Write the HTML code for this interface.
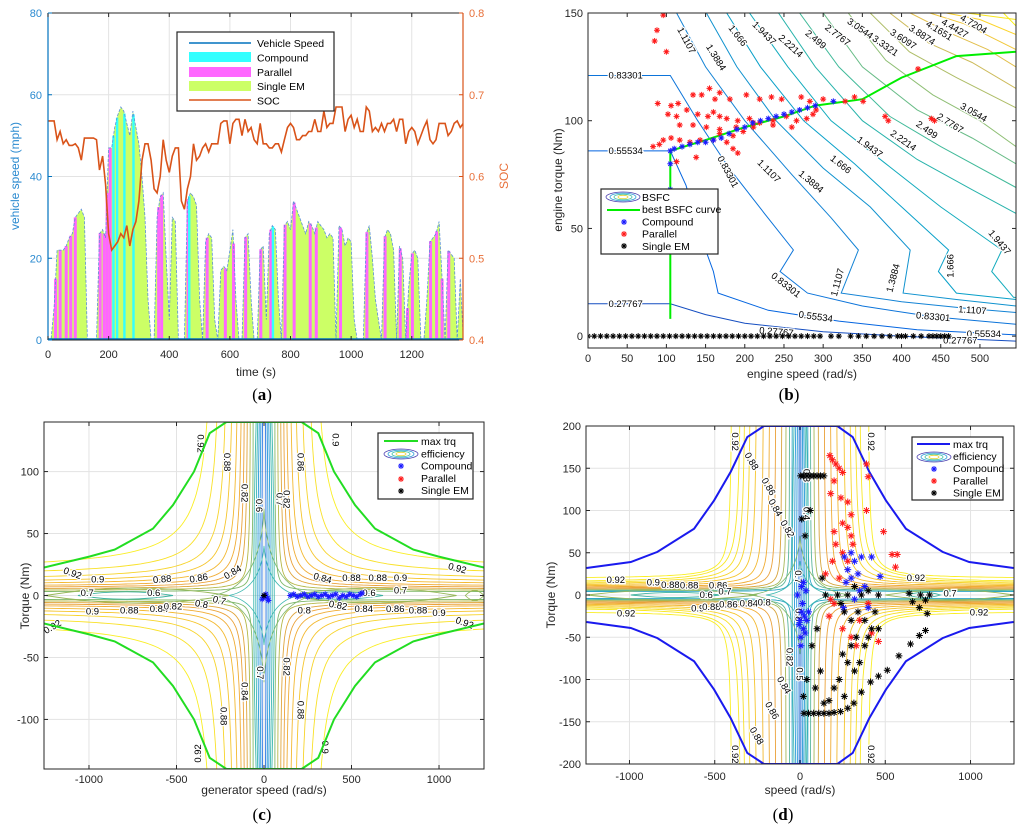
<!DOCTYPE html>
<html><head><meta charset="utf-8">
<style>
html,body{margin:0;padding:0;background:#fff;}
svg{display:block;font-family:"Liberation Sans",Arial,sans-serif;}
.tk{font-size:11px;fill:#262626;}
.ttl{font-size:12px;fill:#262626;}
.lg{font-size:10.5px;fill:#000;}
.cl{font-size:9.5px;fill:#000;stroke:#fff;stroke-width:2.5px;paint-order:stroke;}
.pl{font-family:"Liberation Serif",serif;font-size:17px;fill:#000;}
</style></head>
<body>
<svg id="fig" width="1024" height="834" viewBox="0 0 1024 834" xmlns="http://www.w3.org/2000/svg">
<rect width="1024" height="834" fill="#fff"/>
<defs>
<clipPath id="clipA"><rect x="48" y="13" width="415" height="327"/></clipPath>
<clipPath id="clipB"><rect x="588" y="13" width="428" height="335"/></clipPath>
<clipPath id="clipC"><rect x="44" y="422" width="440" height="347"/></clipPath>
<clipPath id="clipD"><rect x="586" y="426" width="428" height="338"/></clipPath>
</defs>
<text class="pl" x="262" y="400" text-anchor="middle">(<tspan font-weight="bold">a</tspan>)</text>
<text class="pl" x="789" y="400" text-anchor="middle">(<tspan font-weight="bold">b</tspan>)</text>
<text class="pl" x="262" y="820" text-anchor="middle">(<tspan font-weight="bold">c</tspan>)</text>
<text class="pl" x="783" y="820" text-anchor="middle">(<tspan font-weight="bold">d</tspan>)</text>
</svg>
<script>
// ---------- Panel (a) data ----------
const speedA = [0,0,8,22,22,22,23,25,26,30,31,32,30,0,0,0,0,26,27,25,47,47,52,55,57,56,53,50,56,52,48,40,30,10,0,0,30,35,36,20,5,30,29,0,0,0,34,36,35,33,10,0,24,26,25,5,0,17,18,17,22,27,10,0,0,25,26,10,0,0,22,23,5,26,28,27,10,0,28,29,27,34,32,30,28,26,29,28,26,29,28,27,25,26,25,0,28,27,23,25,24,5,0,0,0,26,28,20,10,5,0,25,27,26,22,0,23,20,0,13,21,22,20,0,0,10,24,25,26,29,15,0,22,21,20,0,15,0];
const socA = [0.668,0.668,0.668,0.645,0.655,0.64,0.645,0.638,0.638,0.64,0.635,0.62,0.647,0.647,0.647,0.647,0.645,0.608,0.625,0.59,0.53,0.51,0.515,0.52,0.53,0.525,0.54,0.515,0.535,0.545,0.57,0.62,0.64,0.64,0.62,0.585,0.58,0.6,0.645,0.62,0.605,0.625,0.635,0.635,0.57,0.56,0.585,0.6,0.64,0.62,0.625,0.635,0.64,0.63,0.64,0.64,0.64,0.665,0.668,0.668,0.64,0.665,0.67,0.67,0.65,0.67,0.655,0.66,0.645,0.64,0.665,0.64,0.64,0.635,0.635,0.64,0.64,0.63,0.645,0.66,0.665,0.66,0.645,0.645,0.65,0.65,0.655,0.655,0.67,0.655,0.655,0.68,0.66,0.665,0.665,0.685,0.685,0.685,0.655,0.67,0.675,0.66,0.67,0.655,0.655,0.685,0.68,0.655,0.66,0.655,0.665,0.655,0.665,0.665,0.67,0.655,0.67,0.67,0.64,0.655,0.66,0.655,0.64,0.65,0.66,0.668,0.645,0.64,0.645,0.665,0.665,0.665,0.65,0.655,0.665,0.668,0.66,0.665];
const timeStepA = 10;
const parallelTimesA = [25,40,60,75,90,172,185,195,205,365,375,462,525,585,612,652,702,735,782,812,865,885,965,1052,1112,1162,1186,1202,1262,1282,1300,1322];
const compoundTimesA = [216,228,252,282,466,742];
const xTicksA = [0,200,400,600,800,1000,1200];
const yTicksA = [0,20,40,60,80];
const y2TicksA = [0.4,0.5,0.6,0.7,0.8];

// ---------- Panel (b) data ----------
const bsfcLevels = ['0.27767','0.55534','0.83301','1.1107','1.3884','1.666','1.9437','2.2214','2.499','2.7767','3.0544','3.3321','3.6097','3.8874','4.1651','4.4427','4.7204'];
const bsfcContours = [
 [[0,15],[105,15],[150,10],[200,6],[300,2],[400,0],[546,-2.3]],
 [[0,86],[105,86],[125,70],[145,45],[160,30],[166,20],[230,12],[320,7],[420,3],[546,0.6]],
 [[0,121],[105,121],[140,100],[180,78],[225,57],[262,40],[245,30],[280,20],[350,14],[440,9],[546,5.5]],
 [[113,150],[150,125],[200,100],[260,75],[310,55],[345,40],[323,20],[400,16],[480,13],[546,11]],
 [[151,150],[190,125],[240,100],[300,78],[360,60],[411,40],[402,20],[470,17],[546,14]],
 [[177,150],[220,125],[275,100],[340,80],[400,60],[460,40],[447,30],[470,20],[546,17]],
 [[206,150],[255,125],[310,100],[380,80],[450,60],[528,40],[515,30],[543,18],[546,18]],
 [[243,150],[290,125],[350,100],[420,82],[490,68],[546,57]],
 [[270,150],[320,125],[385,102],[450,88],[546,69]],
 [[300,150],[350,125],[420,105],[490,92],[546,80]],
 [[332,150],[380,128],[440,112],[500,100],[546,88]],
 [[360,150],[410,132],[470,120],[546,106]],
 [[385,150],[435,136],[490,127],[546,115]],
 [[411,150],[460,141],[510,133],[546,125]],
 [[436,150],[480,145],[546,133]],
 [[457,150],[500,147],[546,140]],
 [[483,150],[546,147]]
];
const bsfcLabels = [
 [48,121,'0.83301',0],[48,86,'0.55534',0],[48,15,'0.27767',0],
 [122,138,'1.1107',62],[160,130,'1.3884',58],[188,140,'1.666',52],[222,141,'1.9437',45],[256,135,'2.2214',42],[288,138,'2.499',40],[316,140,'2.7767',38],[345,143,'3.0544',35],[377,135,'3.3321',35],[400,138,'3.6097',33],[424,140,'3.8874',33],[446,142,'4.1651',32],[466,143,'4.4427',30],[490,145,'4.7204',30],
 [175,77,'0.83301',62],[228,77,'1.1107',45],[282,72,'1.3884',40],[320,80,'1.666',38],[357,88,'1.9437',36],[400,91,'2.2214',35],[430,96,'2.499',35],[460,99,'2.7767',32],[490,104,'3.0544',30],
 [250,24,'0.83301',38],[322,26,'1.1107',-75],[393,28,'1.3884',-75],[466,34,'1.666',-90],[522,44,'1.9437',50],
 [290,9,'0.55534',8],[440,9,'0.83301',5],[490,12,'1.1107',4],[240,2,'0.27767',5],[505,1,'0.55534',0],[475,-2,'0.27767',0]
];
const bestBsfcX = [105,105,150,200,250,290,350,400,470,546];
const bestBsfcY = [8,86,91,97,102,107,110,120,130,132];
const compoundB = [[105,86],[105,80],[105,68],[110,87],[120,88],[130,89],[140,90],[150,90],[160,91],[170,92],[180,94],[190,96],[200,97],[210,99],[220,100],[230,101],[240,102],[250,103],[260,104],[270,105],[280,106],[290,107],[313,109]];
const parallelB = [[96,149],[88,142],[85,137],[100,132],[155,115],[168,113],[89,108],[106,107],[115,108],[134,112],[145,112],[162,110],[181,110],[202,112],[219,110],[234,111],[247,110],[272,111],[283,109],[300,110],[328,109],[340,111],[351,109],[379,102],[383,100],[438,101],[442,100],[421,124],[102,103],[113,102],[126,105],[140,103],[153,102],[160,104],[168,102],[177,101],[191,100],[206,101],[219,99],[236,100],[253,102],[266,100],[279,101],[287,103],[291,105],[260,97],[236,98],[211,99],[189,97],[168,96],[151,97],[134,98],[117,98],[96,91],[106,92],[117,91],[130,90],[143,91],[160,91],[177,90],[185,87],[191,85],[83,88],[91,89],[113,81],[138,83],[168,94],[185,93],[198,95],[211,97]];
const singleB = [0,8,16,24,32,40,48,56,64,72,80,88,96,104,112,120,128,136,144,152,160,168,176,184,192,200,208,216,224,232,240,248,256,264,272,280,288,296,310,320,335,345,355,365,375,385,395,400,405,415,425,435,440,445,450,455,460];
const xTicksB = [0,50,100,150,200,250,300,350,400,450,500];
const yTicksB = [0,50,100,150];

// ---------- Panel (c) data ----------
const maxTrqCX = [-1257,-996,-853,-634,-520,-400,-310,-215,215,310,400,520,634,853,996,1257];
const maxTrqCY = [22.6,31.5,37,54,73,100,131,140,140,131,100,73,54,37,31.5,22.6];
const effA_C = [60,75,90,105,120,140,165,195,230,260];
const effB_C = [3,4,5,6,7,8.5,10,12,15,19];
const effK_C = [300,500,800,1100,1500,2000,2700,3600,5000,8000];
const effCol_C = ['#7fb86a','#b5b848','#e0a53c','#eba23a','#f0ac35','#f3b830','#f5c52c','#f7d42a','#f9e128','#faee24'];
const centerX_C = [-45,-36,-27,-18,-9,9,18,27,36,45];
const loopsC = [[-1063,-520,3,'#3fb3a0'],[-1250,-200,6,'#98b85a'],[166,680,3,'#3fb3a0'],[140,1100,6,'#98b85a'],[1150,1257,4,'#98b85a']];
const compoundC = [[0,-1],[10,1],[20,-2],[25,-4],[-10,-3],[150,0],[170,1],[190,-1],[210,0],[230,1],[250,-1],[270,0],[290,1],[310,-1],[330,0],[350,1],[370,-1],[390,0],[410,1],[430,-2],[450,0],[470,-1],[490,1],[510,0],[530,-1],[550,1],[560,2]];
const singleC = [[0,0]];
const labelsC = [[-1100,18,'0.92',20],[-950,13,'0.9',0],[-580,13,'0.88',-5],[-370,14,'0.86',-10],[-170,19,'0.84',-30],[-980,-13,'0.9',0],[-770,-12,'0.88',0],[-600,-11,'0.84',0],[-520,-9,'0.82',0],[-360,-7,'0.8',10],[-260,-4,'0.7',15],[-1010,2,'0.7',0],[-630,2,'0.6',0],[-1200,-25,'0.92',-30],[230,-12,'0.8',0],[420,-8,'0.82',10],[570,-11,'0.84',0],[750,-11,'0.86',0],[880,-12,'0.88',0],[1000,-14,'0.9',0],[1140,-22,'0.92',20],[330,14,'0.84',15],[500,14,'0.88',0],[650,14,'0.88',0],[780,14,'0.9',0],[1100,22,'0.92',15],[780,4,'0.7',0],[600,2,'0.6',0],
 [-380,125,'0.92',90],[-230,110,'0.88',90],[-130,85,'0.82',90],[-45,75,'0.6',90],[70,80,'0.7',90],[110,80,'0.82',90],[190,110,'0.86',90],[390,128,'0.9',90],[-40,-60,'0.7',90],[-130,-75,'0.84',90],[-250,-95,'0.88',90],[-360,-125,'0.92',-90],[110,-55,'0.82',90],[190,-90,'0.88',90],[330,-120,'0.9',90]];
const xTicksC = [-1000,-500,0,500,1000];
const yTicksC = [-100,-50,0,50,100];

// ---------- Panel (d) data ----------
const maxTrqDX = [-1252,-992,-836,-621,-504,-406,-309,-211,219,309,406,504,621,836,992,1252];
const maxTrqDY = [32,39,51,78.5,112,146,187,200,200,187,146,112,78.5,51,39,32];
const effA_D = [45,60,80,105,140,175,210,250,285,315,340,395];
const effB_D = [4,5,6,7,8,9,10,11,12,13,14,19];
const effK_D = [200,300,400,500,700,900,1200,1500,1800,2100,2500,1500];
const effCol_D = ['#2fa6c6','#5bb69c','#a8b85a','#d8a43c','#eba23a','#f0ac35','#f3b830','#f5c52c','#f7d42a','#f8e028','#f9e826','#faee24'];
const centerX_D = [-35,-25,-15,-5,5,14,22,30,38];
const loopsD = [[-992,-465,3,'#3fb3a0'],[-1250,-250,6,'#98b85a'],[629,824,3,'#3fb3a0'],[500,1254,6,'#98b85a']];
const compoundD = [[0,-30],[10,-20],[20,-40],[5,-50],[15,-10],[25,-25],[-5,-35],[30,-45],[40,-30],[10,10],[20,15],[-15,0],[5,-60],[50,-20],[35,5],[260,45],[280,30],[300,50],[320,40],[340,25],[360,45],[380,10],[300,20],[270,15],[420,45],[470,22],[350,5],[320,-5],[400,-15],[255,-15]];
const parallelD = [[175,165],[190,160],[210,155],[230,150],[250,145],[200,135],[390,155],[400,140],[180,120],[240,115],[280,110],[300,95],[390,100],[250,85],[280,80],[300,70],[200,75],[310,60],[210,60],[250,50],[190,40],[280,40],[230,20],[200,-10],[170,-25],[250,-40],[300,-50],[350,-30],[420,-45],[460,-55],[570,48],[560,33],[540,48],[490,75],[180,-5],[150,25],[330,-60],[400,-10]];
const singleD = [[4,141],[20,141],[40,141],[60,141],[80,141],[100,141],[120,141],[140,141],[23,-140],[50,-140],[80,-140],[110,-140],[140,-140],[170,-140],[200,-139],[238,-138],[280,-134],[316,-128],[360,-115],[414,-103],[460,-96],[512,-89],[580,-72],[648,-58],[700,-48],[736,-42],[746,-22],[736,-6],[707,0],[640,2],[660,-8],[700,-15],[760,0],[10,90],[30,70],[60,100],[70,-60],[40,-100],[20,-120],[90,-110],[120,-90],[100,-40],[130,20],[150,0],[220,0],[240,-10],[260,-20],[280,0],[300,-30],[320,10],[340,-20],[360,0],[380,-30],[400,5],[420,-40],[440,-20],[460,0],[300,-60],[250,-70],[280,-80],[320,-90],[230,-100],[200,-110],[170,-125],[140,-128],[260,-120],[330,-50],[350,-80],[380,-60],[400,-50],[460,-40]];
const labelsD = [[-1080,18,'0.92',0],[-860,15,'0.9',0],[-760,12,'0.88',0],[-650,11,'0.88',0],[-480,11,'0.86',0],[-550,0,'0.6',0],[-440,4,'0.7',0],[-1020,-22,'0.92',0],[-600,-16,'0.9',0],[-520,-14,'0.88',0],[-420,-11,'0.86',0],[-300,-10,'0.84',0],[-210,-9,'0.8',0],[680,20,'0.92',0],[1050,-21,'0.92',0],[880,2,'0.7',0],
 [-400,185,'0.92',90],[-300,160,'0.88',60],[-200,130,'0.86',60],[-160,105,'0.84',60],[-90,80,'0.82',60],[-30,25,'0.7',90],[-80,-70,'0.82',90],[-110,-105,'0.84',60],[-180,-135,'0.86',60],[-270,-165,'0.88',60],[-400,-185,'0.92',90],[400,-185,'0.92',90],[400,185,'0.92',90],[20,145,'0.3',90],[20,100,'0.4',90],[-20,-90,'0.5',90],[-25,-20,'0.8',90]];
const xTicksD = [-1000,-500,0,500,1000];
const yTicksD = [-200,-150,-100,-50,0,50,100,150,200];

// ---------- helpers ----------
const NS = 'http://www.w3.org/2000/svg';
const svg = document.getElementById('fig');
function mk(tag, attrs, parent) {
  const e = document.createElementNS(NS, tag);
  for (const k in attrs) e.setAttribute(k, attrs[k]);
  (parent || svg).appendChild(e);
  return e;
}
function lin(d0, d1, r0, r1) { return v => r0 + (v - d0) * (r1 - r0) / (d1 - d0); }
function pathFrom(pts) { return pts.map((p, i) => (i ? 'L' : 'M') + p[0].toFixed(1) + ' ' + p[1].toFixed(1)).join(''); }
function star(g, x, y, col, s) {
  const p = mk('path', {d: `M${x-s} ${y}h${2*s}M${x} ${y-s}v${2*s}M${x-.7*s} ${y-.7*s}l${1.4*s} ${1.4*s}M${x-.7*s} ${y+.7*s}l${1.4*s} ${-1.4*s}`, stroke: col, 'stroke-width': 1, fill: 'none'}, g);
  
  
  return p;
}
function axesFrame(g, L, T, R, B, xs, ys, xTicks, yTicks, xLab, yLab, grid) {
  if (grid) {
    xTicks.forEach(v => { const l = mk('line', {x1: xs(v), x2: xs(v), y1: T, y2: B, stroke: '#e3e3e3', 'stroke-width': 1}, g);
      
       });
    yTicks.forEach(v => { const l = mk('line', {x1: L, x2: R, y1: ys(v), y2: ys(v), stroke: '#e3e3e3', 'stroke-width': 1}, g);
      
       });
  }
}
function ticksAndBox(g, L, T, R, B, xs, ys, xTicks, yTicks, xLy, yLx) {
  const box = mk('rect', {x: L, y: T, width: R - L, height: B - T, fill: 'none', stroke: '#262626', 'stroke-width': 1}, g);
  
  
  xTicks.forEach(v => {
    mk('line', {x1: xs(v), x2: xs(v), y1: B, y2: B - 4, stroke: '#262626'}, g);
    mk('line', {x1: xs(v), x2: xs(v), y1: T, y2: T + 4, stroke: '#262626'}, g);
    const t = mk('text', {x: xs(v), y: xLy, 'text-anchor': 'middle', class: 'tk'}, g);
    t.textContent = v;
    
    
  });
  yTicks.forEach(v => {
    mk('line', {x1: L, x2: L + 4, y1: ys(v), y2: ys(v), stroke: '#262626'}, g);
    mk('line', {x1: R, x2: R - 4, y1: ys(v), y2: ys(v), stroke: '#262626'}, g);
    const t = mk('text', {x: yLx, y: ys(v) + 4, 'text-anchor': 'end', class: 'tk'}, g);
    t.textContent = v;
    
    
  });
}
function text(g, x, y, s, cls, anchor, rot, name, fill) {
  const t = mk('text', {x: x, y: y, class: cls, 'text-anchor': anchor || 'start'}, g);
  if (rot) t.setAttribute('transform', `rotate(${rot} ${x} ${y})`);
  if (fill) t.setAttribute('fill', fill), t.style.fill = fill;
  t.textContent = s;
  
  
  return t;
}
function legendBox(g, x, y, w, h, name) {
  const r = mk('rect', {x: x, y: y, width: w, height: h, fill: '#fff', stroke: '#262626', 'stroke-width': 1.2}, g);
  
  
}
function effIcon(g, cx, cy) {
  const cols = ['#4a3fb0', '#2a9ad8', '#3fc0a0', '#e8d23a'];
  cols.forEach((c, i) => { mk('ellipse', {cx: cx, cy: cy, rx: 17 - i * 4, ry: 5 - i * 1.1, fill: 'none', stroke: c, 'stroke-width': 0.8}, g); });
}
const parula = ['#352a87','#0363e1','#1485d4','#06a7c6','#38b99e','#92bf73','#d9ba56','#fcce2e','#f9fb0e'];
function parulaAt(t) {
  const i = Math.min(parula.length - 2, Math.floor(t * (parula.length - 1)));
  const f = t * (parula.length - 1) - i;
  const a = parula[i], b = parula[i + 1];
  const h = (s, k) => parseInt(s.substr(1 + 2 * k, 2), 16);
  const c = [0, 1, 2].map(k => Math.round(h(a, k) + (h(b, k) - h(a, k)) * f));
  return `rgb(${c[0]},${c[1]},${c[2]})`;
}

// ================= Panel (a) =================
(function () {
  const g = mk('g', {});
  
  
  const L = 48, R = 463, T = 13, B = 340;
  const xs = lin(0, 1369, L, R), ys = lin(0, 80, B, T), ys2 = lin(0.4, 0.8, B, T);
  axesFrame(g, L, T, R, B, xs, ys, xTicksA, yTicksA, '', '', true);
  const cg = mk('g', {'clip-path': 'url(#clipA)'}, g);
  const pts = speedA.map((v, i) => [xs(i * timeStepA), ys(v)]);
  const area = mk('path', {d: pathFrom([[xs(0), ys(0)]].concat(pts).concat([[xs((speedA.length - 1) * timeStepA), ys(0)]])) + 'Z', fill: '#ccff66', stroke: 'none'}, cg);
  
  
  function speedAt(t) { const i = Math.floor(t / timeStepA), f = t / timeStepA - i; return speedA[i] + ((speedA[i + 1] || 0) - speedA[i]) * f; }
  parallelTimesA.forEach(t => {
    const r = mk('rect', {x: xs(t) - 1.5, y: ys(speedAt(t)), width: 3, height: ys(0) - ys(speedAt(t)), fill: '#ff66ff'}, cg);
    
    
  });
  compoundTimesA.forEach(t => {
    const r = mk('rect', {x: xs(t) - 1.2, y: ys(speedAt(t)), width: 2.4, height: ys(0) - ys(speedAt(t)), fill: '#33ffff'}, cg);
    
    
  });
  const sp = mk('path', {d: pathFrom(pts), fill: 'none', stroke: '#5a8fd8', 'stroke-width': 0.8, 'stroke-dasharray': '3 1.5'}, cg);
  
  
  const zl = mk('line', {x1: L, x2: R, y1: B - 1, y2: B - 1, stroke: '#0072bd', 'stroke-width': 1.5}, cg);
  
  
  const soc = mk('path', {d: pathFrom(socA.map((v, i) => [xs(i * timeStepA), ys2(v)])), fill: 'none', stroke: '#d95319', 'stroke-width': 1.6}, cg);
  
  
  // box
  mk('line', {x1: L, x2: R, y1: T, y2: T, stroke: '#262626'}, g);
  mk('line', {x1: L, x2: R, y1: B, y2: B, stroke: '#262626'}, g);
  const la = mk('line', {x1: L, x2: L, y1: T, y2: B, stroke: '#0072bd', 'stroke-width': 1.2}, g);
  
  
  const ra = mk('line', {x1: R, x2: R, y1: T, y2: B, stroke: '#d95319', 'stroke-width': 1.2}, g);
  
  
  xTicksA.forEach(v => {
    mk('line', {x1: xs(v), x2: xs(v), y1: B, y2: B - 4, stroke: '#262626'}, g);
    mk('line', {x1: xs(v), x2: xs(v), y1: T, y2: T + 4, stroke: '#262626'}, g);
    text(g, xs(v), 358, v, 'tk', 'middle', 0, 'x-tick-label');
  });
  yTicksA.forEach(v => {
    mk('line', {x1: L, x2: L + 4, y1: ys(v), y2: ys(v), stroke: '#0072bd'}, g);
    text(g, 42, ys(v) + 4, v, 'tk', 'end', 0, 'left-y-tick-label', '#2a8ad0');
  });
  y2TicksA.forEach(v => {
    mk('line', {x1: R, x2: R - 4, y1: ys2(v), y2: ys2(v), stroke: '#d95319'}, g);
    text(g, 469, ys2(v) + 4, v.toFixed(1), 'tk', 'start', 0, 'right-y-tick-label', '#e8703a');
  });
  text(g, 256, 376, 'time (s)', 'ttl', 'middle', 0, 'x-axis-title');
  text(g, 19, 176, 'vehicle speed (mph)', 'ttl', 'middle', -90, 'left-y-axis-title', '#2a8ad0');
  text(g, 508, 176, 'SOC', 'ttl', 'middle', -90, 'right-y-axis-title', '#e8703a');
  // legend
  const lg = mk('g', {}, g);
  
  
  legendBox(lg, 177, 32, 157, 79, 'legend-box');
  mk('line', {x1: 189, x2: 251, y1: 43, y2: 43, stroke: '#0072bd', 'stroke-width': 1.5}, lg);
  mk('rect', {x: 189, y: 52, width: 62, height: 10, fill: '#33ffff'}, lg);
  mk('rect', {x: 189, y: 67, width: 62, height: 10, fill: '#ff66ff'}, lg);
  mk('rect', {x: 189, y: 81, width: 62, height: 10, fill: '#ccff66'}, lg);
  mk('line', {x1: 189, x2: 251, y1: 100, y2: 100, stroke: '#d95319', 'stroke-width': 1.5}, lg);
  ['Vehicle Speed', 'Compound', 'Parallel', 'Single EM', 'SOC'].forEach((s, i) => text(lg, 257, 47 + i * 14.4, s, 'lg', 'start', 0, 'legend-entry'));
})();

// ================= Panel (b) =================
(function () {
  const g = mk('g', {});
  
  
  const L = 588, R = 1016, T = 13, B = 348;
  const xs = lin(0, 546, L, R), ys = lin(-5.5, 150, B, T);
  const cg = mk('g', {'clip-path': 'url(#clipB)'}, g);
  bsfcContours.forEach((c, i) => {
    const p = mk('path', {d: pathFrom(c.map(q => [xs(q[0]), ys(q[1])])), fill: 'none', stroke: parulaAt(0.08 + i / 18.5), 'stroke-width': 1}, cg);
    
    
  });
  [[508, 150, 546, 150], [530, 150, 546, 144]].forEach((q, i) => {
    const p = mk('path', {d: `M${xs(q[0])} ${ys(q[1])}L${xs(q[2])} ${ys(q[3])}`, stroke: parulaAt(0.97), fill: 'none'}, cg);
    
    
  });
  bsfcLabels.forEach(l => text(cg, xs(l[0]), ys(l[1]) + 3, l[2], 'cl', 'middle', l[3], 'contour-label'));
  const sg = mk('g', {}, cg);
  
  
  singleB.forEach(x => star(sg, xs(x), ys(0), '#000', 3));
  const bl = mk('path', {d: pathFrom(bestBsfcX.map((x, i) => [xs(x), ys(bestBsfcY[i])])), fill: 'none', stroke: '#00ee00', 'stroke-width': 2}, cg);
  
  
  const pg = mk('g', {}, cg);
  
  
  parallelB.forEach(q => star(pg, xs(q[0]), ys(q[1]), '#ff1a1a', 3));
  const bg = mk('g', {}, cg);
  
  
  compoundB.forEach(q => star(bg, xs(q[0]), ys(q[1]), '#1a1aff', 3));
  ticksAndBox(g, L, T, R, B, xs, ys, xTicksB, yTicksB, 362, 583);
  text(g, 802, 378, 'engine speed (rad/s)', 'ttl', 'middle', 0, 'x-axis-title');
  text(g, 562, 180, 'engine torque (Nm)', 'ttl', 'middle', -90, 'y-axis-title');
  const lg = mk('g', {}, g);
  
  
  legendBox(lg, 601, 189, 117, 65, 'legend-box');
  effIcon(lg, 623, 197);
  mk('line', {x1: 607, x2: 640, y1: 210, y2: 210, stroke: '#00ee00', 'stroke-width': 2}, lg);
  star(lg, 624, 222, '#1a1aff', 3);
  star(lg, 624, 234, '#ff1a1a', 3);
  star(lg, 624, 246, '#000', 3);
  ['BSFC', 'best BSFC curve', 'Compound', 'Parallel', 'Single EM'].forEach((s, i) => text(lg, 642, 201 + i * 12.2, s, 'lg', 'start', 0, 'legend-entry'));
})();

// ================= efficiency map helper =================
function effMap(cg, xs, ys, xmax, ymax, A, Bv, K, cols, centerX, loops, name) {
  A.forEach((a, i) => {
    [[1, 1], [1, -1], [-1, 1], [-1, -1]].forEach(sg => {
      const pts = [];
      const x0 = a + K[i] / (ymax - Bv[i]);
      for (let s = 0; s <= 60; s++) {
        const x = x0 + (xmax - x0) * Math.pow(s / 60, 2);
        const y = Bv[i] + K[i] / (x - a);
        pts.push([xs(sg[0] * x), ys(sg[1] * y)]);
      }
      pts.unshift([xs(sg[0] * (x0 - 2)), ys(sg[1] * ymax * 1.02)]);
      const p = mk('path', {d: pathFrom(pts), fill: 'none', stroke: cols[i], 'stroke-width': 0.9}, cg);
      
      
    });
  });
  centerX.forEach((x, i) => {
    const c = Math.abs(x) < 12 ? '#1e6fe0' : (Math.abs(x) < 30 ? '#2a9ad8' : '#3fb8b0');
    const p = mk('path', {d: `M${xs(x)} ${ys(ymax)}Q${xs(x * 1.6)} ${ys(0)} ${xs(x)} ${ys(-ymax)}`, fill: 'none', stroke: c, 'stroke-width': 0.9}, cg);
    
    
  });
  loops.forEach(l => {
    const xm = (l[0] + l[1]) / 2;
    const p = mk('path', {d: `M${xs(l[0])} ${ys(0)}Q${xs(xm)} ${ys(l[2] * 2)} ${xs(l[1])} ${ys(0)}Q${xs(xm)} ${ys(-l[2] * 2)} ${xs(l[0])} ${ys(0)}Z`, fill: 'none', stroke: l[3], 'stroke-width': 0.9}, cg);
    
    
  });
  // central diamonds
  [[200, 40, '#3fb8b0'], [300, 70, '#7fb86a']].forEach(dm => {
    const p = mk('path', {d: `M${xs(-dm[0])} ${ys(0)}Q${xs(-20)} ${ys(5)} ${xs(0)} ${ys(dm[1])}Q${xs(20)} ${ys(5)} ${xs(dm[0])} ${ys(0)}Q${xs(20)} ${ys(-5)} ${xs(0)} ${ys(-dm[1])}Q${xs(-20)} ${ys(-5)} ${xs(-dm[0])} ${ys(0)}`, fill: 'none', stroke: dm[2], 'stroke-width': 0.8}, cg);
    
    
  });
}

// ================= Panel (c) =================
(function () {
  const g = mk('g', {});
  
  
  const L = 44, R = 484, T = 422, B = 769;
  const xs = lin(-1257, 1257, L, R), ys = lin(-140, 140, B, T);
  axesFrame(g, L, T, R, B, xs, ys, xTicksC, yTicksC, '', '', true);
  const cg = mk('g', {'clip-path': 'url(#clipC)'}, g);
  effMap(cg, xs, ys, 1300, 140, effA_C, effB_C, effK_C, effCol_C, centerX_C, loopsC, 'generator');
  labelsC.forEach(l => text(cg, xs(l[0]), ys(l[1]) + 3, l[2], 'cl', 'middle', l[3], 'contour-label'));
  const mt = mk('path', {d: pathFrom(maxTrqCX.map((x, i) => [xs(x), ys(maxTrqCY[i])])) + pathFrom(maxTrqCX.map((x, i) => [xs(x), ys(-maxTrqCY[i])])), fill: 'none', stroke: '#22dd22', 'stroke-width': 2}, cg);
  
  
  const bg = mk('g', {}, cg);
  
  
  compoundC.forEach(q => star(bg, xs(q[0]), ys(q[1]), '#1a1aff', 3));
  singleC.forEach(q => star(cg, xs(q[0]), ys(q[1]), '#000', 3));
  ticksAndBox(g, L, T, R, B, xs, ys, xTicksC, yTicksC, 783, 39);
  text(g, 264, 794, 'generator speed (rad/s)', 'ttl', 'middle', 0, 'x-axis-title');
  text(g, 29, 596, 'Torque (Nm)', 'ttl', 'middle', -90, 'y-axis-title');
  const lg = mk('g', {}, g);
  
  
  legendBox(lg, 378, 433, 95, 66, 'legend-box');
  mk('line', {x1: 384, x2: 418, y1: 441, y2: 441, stroke: '#22dd22', 'stroke-width': 2}, lg);
  effIcon(lg, 401, 454);
  star(lg, 401, 466, '#1a1aff', 3);
  star(lg, 401, 479, '#ff1a1a', 3);
  star(lg, 401, 491, '#000', 3);
  ['max trq', 'efficiency', 'Compound', 'Parallel', 'Single EM'].forEach((s, i) => text(lg, 421, 445 + i * 12.3, s, 'lg', 'start', 0, 'legend-entry'));
})();

// ================= Panel (d) =================
(function () {
  const g = mk('g', {});
  
  
  const L = 586, R = 1014, T = 426, B = 764;
  const xs = lin(-1255, 1255, L, R), ys = lin(-200, 200, B, T);
  axesFrame(g, L, T, R, B, xs, ys, xTicksD, yTicksD, '', '', true);
  const cg = mk('g', {'clip-path': 'url(#clipD)'}, g);
  effMap(cg, xs, ys, 1300, 200, effA_D, effB_D, effK_D, effCol_D, centerX_D, loopsD, 'motor');
  labelsD.forEach(l => text(cg, xs(l[0]), ys(l[1]) + 3, l[2], 'cl', 'middle', l[3], 'contour-label'));
  const mt = mk('path', {d: pathFrom(maxTrqDX.map((x, i) => [xs(x), ys(maxTrqDY[i])])) + pathFrom(maxTrqDX.map((x, i) => [xs(x), ys(-maxTrqDY[i])])), fill: 'none', stroke: '#1a1aee', 'stroke-width': 2}, cg);
  
  
  const pg = mk('g', {}, cg);
  
  
  parallelD.forEach(q => star(pg, xs(q[0]), ys(q[1]), '#ff1a1a', 3.5));
  const bg = mk('g', {}, cg);
  
  
  compoundD.forEach(q => star(bg, xs(q[0]), ys(q[1]), '#1a1aff', 3.5));
  const sg = mk('g', {}, cg);
  
  
  singleD.forEach(q => star(sg, xs(q[0]), ys(q[1]), '#000', 3.5));
  ticksAndBox(g, L, T, R, B, xs, ys, xTicksD, yTicksD, 780, 581);
  text(g, 800, 794, 'speed (rad/s)', 'ttl', 'middle', 0, 'x-axis-title');
  text(g, 555, 595, 'Torque (Nm)', 'ttl', 'middle', -90, 'y-axis-title');
  const lg = mk('g', {}, g);
  
  
  legendBox(lg, 912, 437, 91, 63, 'legend-box');
  mk('line', {x1: 917, x2: 950, y1: 444, y2: 444, stroke: '#1a1aee', 'stroke-width': 2}, lg);
  effIcon(lg, 934, 457);
  star(lg, 934, 469, '#1a1aff', 3);
  star(lg, 934, 481, '#ff1a1a', 3);
  star(lg, 934, 493, '#000', 3);
  ['max trq', 'efficiency', 'Compound', 'Parallel', 'Single EM'].forEach((s, i) => text(lg, 953, 448 + i * 12.1, s, 'lg', 'start', 0, 'legend-entry'));
})();
</script>
</body></html>
